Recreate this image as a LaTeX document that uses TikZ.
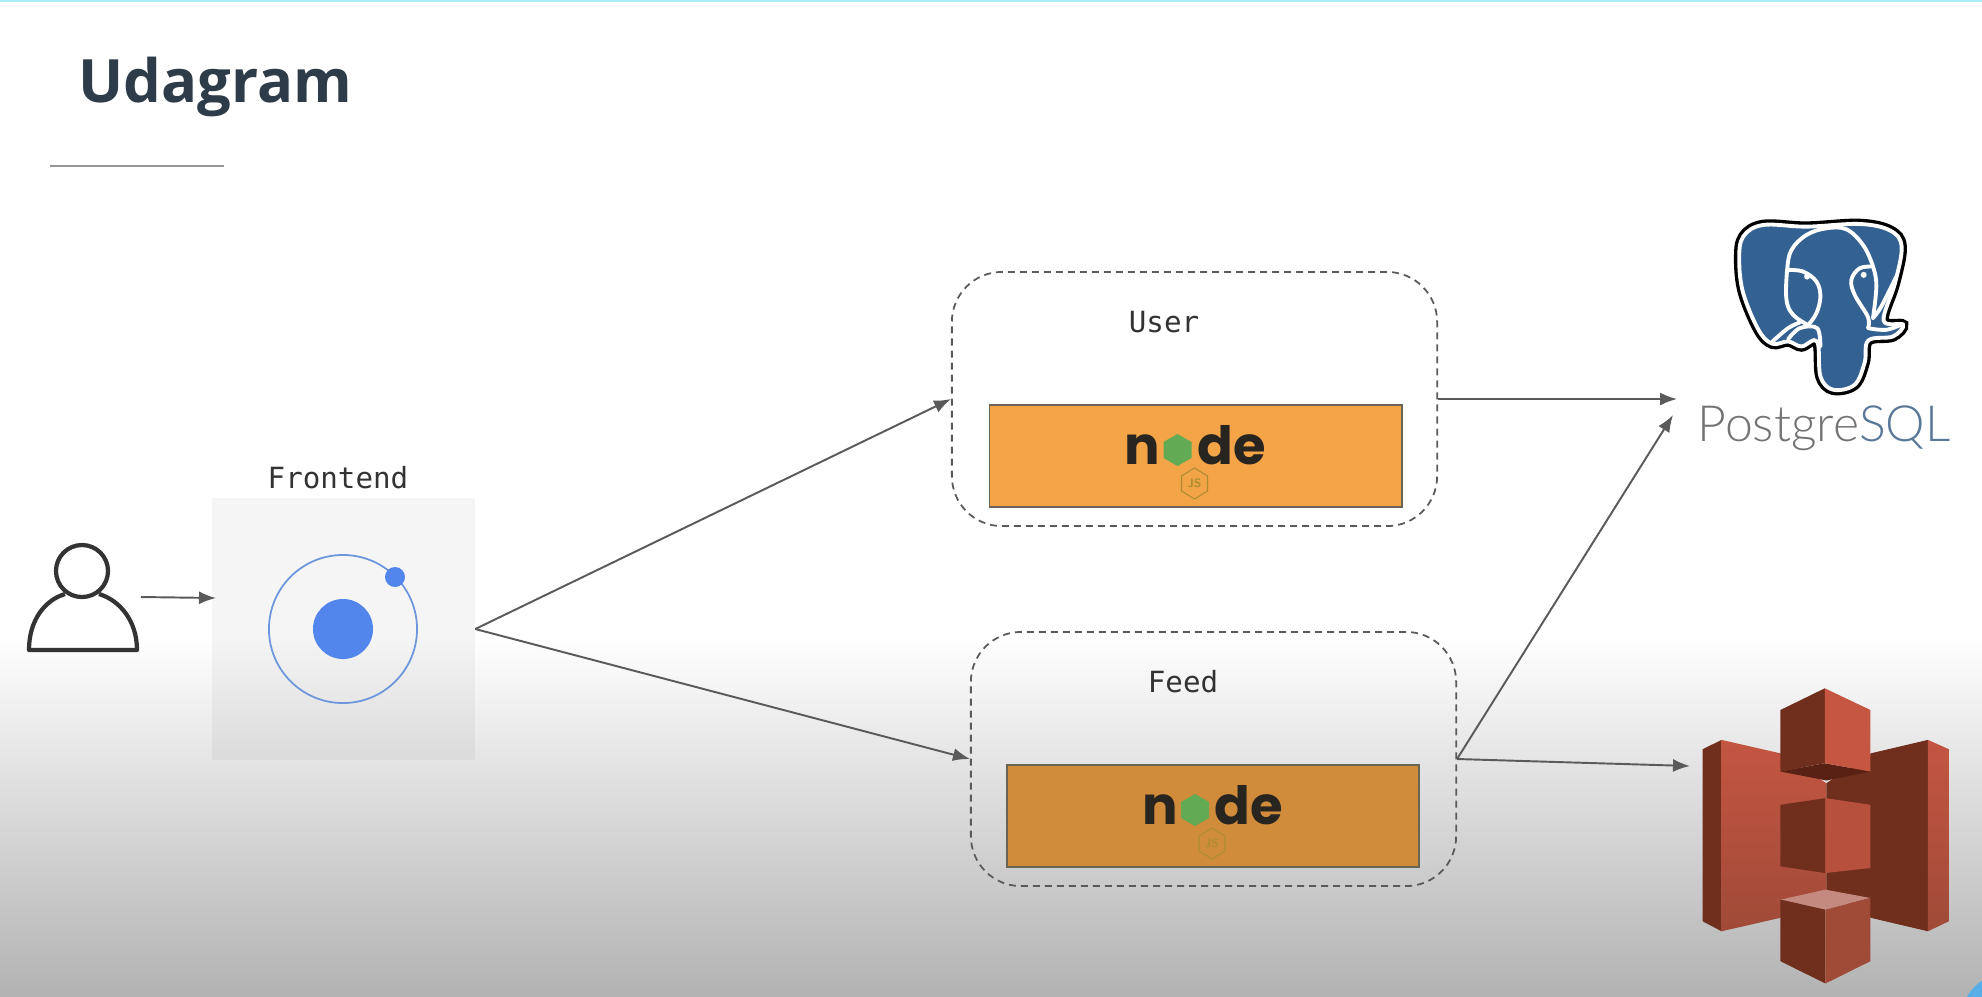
\documentclass[tikz,border=0pt]{standalone}
\usepackage{fontspec}
\usepackage{xcolor}
\usetikzlibrary{calc,arrows.meta}
\setmainfont{Open Sans}
\newfontfamily\labelfont{DejaVu Sans Mono}
\newfontfamily\logofont{Poppins}
\newfontfamily\pgfont{Lato}[UprightFont=* Light]
\definecolor{titleNavy}{RGB}{46,60,73}
\definecolor{ruleGray}{RGB}{150,150,150}
\definecolor{lineGray}{RGB}{90,90,90}
\definecolor{inkDark}{RGB}{51,51,51}
\definecolor{ionBlue}{RGB}{82,134,236}
\definecolor{ionRing}{RGB}{110,150,220}
\definecolor{boxOrange}{RGB}{242,164,70}
\definecolor{boxOrangeDark}{RGB}{208,140,58}
\definecolor{boxEdge}{RGB}{105,100,85}
\definecolor{nodeGreen}{RGB}{98,170,84}
\definecolor{nodeInk}{RGB}{40,36,32}
\definecolor{jsOlive}{RGB}{175,140,50}
\definecolor{pgBlue}{RGB}{51,97,146}
\definecolor{pgGray}{RGB}{115,115,115}
\definecolor{pgSlate}{RGB}{90,120,152}
\definecolor{topCyan}{RGB}{170,240,248}
\definecolor{cornerBlue}{RGB}{90,174,232}
\definecolor{awsLight}{RGB}{184,80,62}
\definecolor{awsLighter}{RGB}{196,86,66}
\definecolor{awsMid}{RGB}{160,74,56}
\definecolor{awsDark}{RGB}{112,46,28}
\definecolor{awsDarker}{RGB}{88,33,20}
\definecolor{awsPink}{RGB}{196,138,128}
\tikzset{
  flowArrow/.style={draw=lineGray,line width=0.55pt,-{Latex[length=0.17cm,width=0.13cm]}},
  serviceBox/.style={draw=lineGray,line width=0.5pt,dash pattern=on 0.07cm off 0.05cm,rounded corners=0.5cm,minimum width=4.85cm,minimum height=2.54cm,inner sep=0pt},
  orangeBox/.style={draw=boxEdge,line width=0.5pt,minimum width=4.12cm,minimum height=1.02cm,inner sep=0pt},
  monoLabel/.style={font=\labelfont\fontsize{8.3}{10}\selectfont,text=inkDark,inner sep=0pt},
  logoType/.style={font=\logofont\bfseries\fontsize{15}{15}\selectfont,text=nodeInk,inner sep=0pt,anchor=base},
  pgStroke/.style={white,line width=1.1pt,line cap=round}
}
\newcommand{\nodeLogo}[2]{
\begin{scope}[shift={(#1)}]
\node[logoType] (#2n) at (-53,8) {n};
\node[logoType] (#2de) at (36,8) {de};
\fill[nodeGreen] (-18,-22) -- (-4,-14) -- (-4,2) -- (-18,10) -- (-32,2) -- (-32,-14) -- cycle;
\draw[jsOlive,line width=0.3pt] (-1,12) -- (12,20) -- (12,35) -- (-1,43) -- (-14,35) -- (-14,20) -- cycle;
\node[text=jsOlive,font=\sffamily\bfseries\fontsize{3.5}{4}\selectfont,inner sep=0pt] (#2js) at (-1,27) {JS};
\end{scope}
}
\begin{document}
\begin{tikzpicture}[x=0.01cm,y=-0.01cm]
\useasboundingbox (0,0) rectangle (1982,996);
\fill[white] (0,0) rectangle (1982,635);
\shade[top color=white,bottom color=black!30] (0,635) rectangle (1982,996);
\fill[topCyan] (0,0) rectangle (1982,2);
\begin{scope}
\clip (0,0) rectangle (1982,996);
\fill[cornerBlue] (2010,1022) circle (50);
\end{scope}

\node[anchor=base west,inner sep=0pt,text=titleNavy,font=\bfseries\fontsize{17}{20}\selectfont] (title) at (78,102) {Udagram};
\draw[ruleGray,line width=0.45pt] (50,166) -- (224,166);

\node[circle,draw=inkDark,line width=1.2pt,minimum size=0.52cm,inner sep=0pt] (personHead) at (82,571) {};
\draw[inkDark,line width=1.2pt,line join=round] (65,594) .. controls (45,600) and (29,620) .. (29,650) -- (137,650) .. controls (137,620) and (119,600) .. (99,594);
\coordinate (personOut) at (141,597);
\coordinate (frontIn) at (216,598);

\node[fill=black,fill opacity=0.04,minimum width=2.62cm,minimum height=2.62cm,inner sep=0pt] (frontBox) at (343.5,629) {};
\node[monoLabel] (frontLabel) at (338,478) {Frontend};
\node[circle,draw=ionRing,line width=0.5pt,minimum size=1.48cm,inner sep=0pt] (ionRing) at (343,629) {};
\node[circle,fill=ionBlue,minimum size=0.6cm,inner sep=0pt] (ionCore) at (343,629) {};
\node[circle,fill=ionBlue,minimum size=0.2cm,inner sep=0pt] (ionDot) at (395,577) {};

\node[serviceBox] (userBox) at (1194.5,399) {};
\node[monoLabel] (userLabel) at (1164,322) {User};
\node[orangeBox,fill=boxOrange] (userCore) at (1195.5,456) {};
\nodeLogo{1195.5,456}{userLogo}

\node[serviceBox] (feedBox) at (1213.5,759) {};
\node[monoLabel] (feedLabel) at (1183,682) {Feed};
\node[orangeBox,fill=boxOrangeDark] (feedCore) at (1213,816) {};
\nodeLogo{1213,816}{feedLogo}

\begin{scope}[shift={(1660,200)},x=0.00333cm,y=-0.00333cm]
\path[draw=black,line width=3pt,postaction={fill=pgBlue},postaction={draw=white,line width=1.1pt}] plot[smooth cycle,tension=0.6] coordinates {(440,80) (310,75) (250,110) (238,180) (250,280) (297,392) (338,432) (385,425) (425,440) (472,425) (482,530) (520,570) (585,555) (615,488) (626,422) (700,410) (730,375) (672,362) (706,250) (726,140) (692,92) (600,72)};
\draw[pgStroke] plot[smooth,tension=0.6] coordinates {(338,425) (385,385) (420,368)};
\draw[pgStroke] plot[smooth,tension=0.6] coordinates {(445,376) (400,345) (380,300) (382,210) (395,150) (440,105) (500,85) (560,88) (610,135) (640,200) (650,260) (640,355)};
\draw[pgStroke] plot[smooth,tension=0.6] coordinates {(382,210) (430,215) (470,245) (482,290) (470,340) (445,376)};
\draw[pgStroke] plot[smooth,tension=0.6] coordinates {(640,200) (600,205) (575,240) (585,285) (625,352) (625,385)};
\draw[pgStroke] plot[smooth,tension=0.6] coordinates {(385,418) (420,385) (472,385) (482,440)};
\draw[pgStroke] plot[smooth,tension=0.6] coordinates {(640,355) (665,320) (710,230)};
\draw[pgStroke] plot[smooth,tension=0.6] coordinates {(625,385) (680,390) (730,372)};
\fill[white] (442,230) circle (9);
\fill[white] (612,225) circle (9);
\end{scope}
\node[anchor=base west,inner sep=0pt,font=\pgfont\fontsize{14.2}{16}\selectfont,text=pgGray] (pgText) at (1697,441) {Postgre\textcolor{pgSlate}{SQL}};
\coordinate (pgInTop) at (1677,399);
\coordinate (pgInLow) at (1673,415);

\begin{scope}[shift={(1660,670)},x=0.00333cm,y=-0.00333cm]
\fill[awsDark] (128,238) -- (185,210) -- (185,785) -- (128,755) -- cycle;
\shade[top color=awsLighter,bottom color=awsMid] (185,210) -- (360,250) -- (500,340) -- (500,660) -- (360,745) -- (185,785) -- cycle;
\fill[awsDark] (635,250) -- (805,210) -- (805,785) -- (635,745) -- (500,660) -- (500,340) -- cycle;
\shade[top color=awsLighter,bottom color=awsMid] (805,210) -- (868,238) -- (868,755) -- (805,785) -- cycle;
\fill[awsDarker] (362,305) -- (495,280) -- (632,305) -- (500,332) -- cycle;
\fill[awsDark] (362,120) -- (495,55) -- (495,280) -- (362,305) -- cycle;
\fill[awsLighter] (495,55) -- (632,120) -- (632,305) -- (495,280) -- cycle;
\fill[awsDark] (362,405) -- (497,385) -- (497,610) -- (362,590) -- cycle;
\fill[awsLight] (497,385) -- (632,405) -- (632,595) -- (497,610) -- cycle;
\fill[awsPink] (362,690) -- (497,660) -- (632,685) -- (497,720) -- cycle;
\fill[awsDark] (362,690) -- (497,720) -- (497,942) -- (362,875) -- cycle;
\fill[awsMid] (497,720) -- (632,685) -- (632,875) -- (497,942) -- cycle;
\end{scope}
\coordinate (bucketIn) at (1690,766);

\draw[flowArrow] (personOut) -- (frontIn);
\draw[flowArrow] (frontBox.east) -- (userBox.west);
\draw[flowArrow] (frontBox.east) -- (feedBox.west);
\draw[flowArrow] (userBox.east) -- (pgInTop);
\draw[flowArrow] (feedBox.east) -- (pgInLow);
\draw[flowArrow] (feedBox.east) -- (bucketIn);
\end{tikzpicture}
\end{document}
